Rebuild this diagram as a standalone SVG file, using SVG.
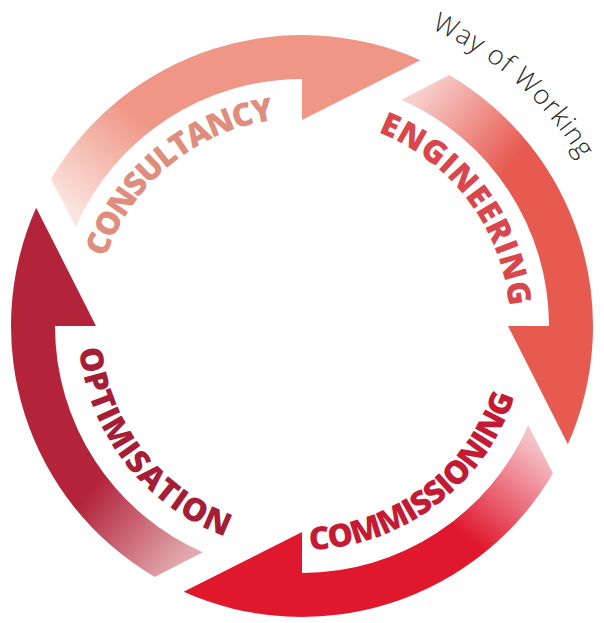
<svg xmlns="http://www.w3.org/2000/svg" width="604" height="623" viewBox="0 0 604 623">
  <defs>
    <style>
      .lbl { font-family: "Open Sans", "Liberation Sans", sans-serif; font-weight: 800; font-size: 32px; }
      .way { font-family: "Open Sans", "Liberation Sans", sans-serif; font-weight: 300; font-size: 27px; fill: #2a2a2a; }
    </style>
    <path id="arrowShape" d="M 147.25,-250.99 A 291 291 0 0 1 265.84,118.36 L 206,0 L 247,0 A 247 247 0 0 0 99.27,-226.18 Z"/>
    <linearGradient id="gCons" gradientUnits="userSpaceOnUse" x1="122" y1="-240" x2="212" y2="-166">
      <stop offset="0" stop-color="#fbe4df"/>
      <stop offset="1" stop-color="#ef9686"/>
    </linearGradient>
    <linearGradient id="gEng" gradientUnits="userSpaceOnUse" x1="122" y1="-240" x2="212" y2="-166">
      <stop offset="0" stop-color="#f7d0cd"/>
      <stop offset="1" stop-color="#e75a50"/>
    </linearGradient>
    <linearGradient id="gComm" gradientUnits="userSpaceOnUse" x1="122" y1="-240" x2="212" y2="-166">
      <stop offset="0" stop-color="#f5c3c9"/>
      <stop offset="1" stop-color="#e0182d"/>
    </linearGradient>
    <linearGradient id="gOpt" gradientUnits="userSpaceOnUse" x1="122" y1="-240" x2="212" y2="-166">
      <stop offset="0" stop-color="#e2aab0"/>
      <stop offset="1" stop-color="#b3243a"/>
    </linearGradient>
    <path id="pCons" d="M 105.5,257.9 A 208 208 0 0 1 320.1,118.8"/>
    <path id="pEng" d="M 377.9,132.3 A 208 208 0 0 1 509.2,344.1"/>
    <path id="pComm" d="M 309.8,549.9 A 224 224 0 0 0 523.8,357.2"/>
    <path id="pOpt" d="M 79.2,349.0 A 224 224 0 0 0 263.1,546.6"/>
    <path id="pWay" d="M 431.2,28.9 A 324 324 0 0 1 595.6,189.1"/>
  </defs>

  <g id="consultancy">
    <use href="#arrowShape" transform="translate(302,326) rotate(-90)" fill="url(#gCons)"/>
    <text class="lbl" fill="#df8e7e"><textPath href="#pCons" textLength="229.8" lengthAdjust="spacing">CONSULTANCY</textPath></text>
  </g>

  <g id="engineering">
    <use href="#arrowShape" transform="translate(302,326)" fill="url(#gEng)"/>
    <text class="lbl" fill="#d9464b"><textPath href="#pEng" textLength="229.4" lengthAdjust="spacing">ENGINEERING</textPath></text>
  </g>

  <g id="commissioning">
    <use href="#arrowShape" transform="translate(302,326) rotate(90)" fill="url(#gComm)"/>
    <text class="lbl" fill="#c51a33"><textPath href="#pComm" textLength="272.5" lengthAdjust="spacing">COMMISSIONING</textPath></text>
  </g>

  <g id="optimisation">
    <use href="#arrowShape" transform="translate(302,326) rotate(180)" fill="url(#gOpt)"/>
    <text class="lbl" fill="#a51e35"><textPath href="#pOpt" textLength="250.6" lengthAdjust="spacing">OPTIMISATION</textPath></text>
  </g>

  <g id="title">
    <text class="way"><textPath href="#pWay" textLength="200.7" lengthAdjust="spacing">Way of Working</textPath></text>
  </g>
</svg>
